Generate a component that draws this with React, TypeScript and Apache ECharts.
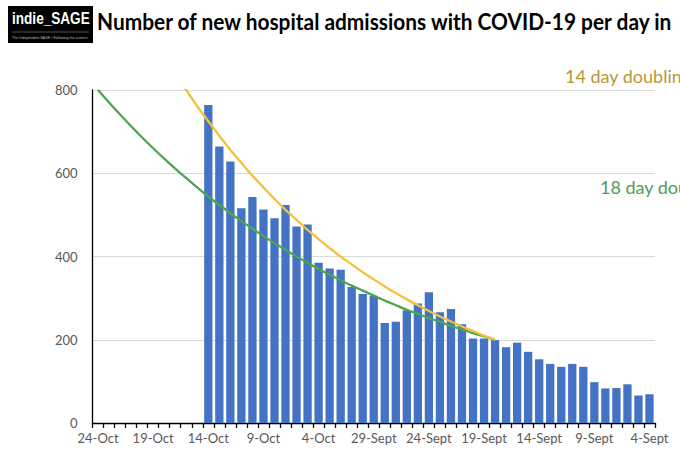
import React, { useEffect, useRef } from "react";
import * as echarts from "echarts";

const categories = [
  "24-Oct", "23-Oct", "22-Oct", "21-Oct", "20-Oct", "19-Oct", "18-Oct", "17-Oct", "16-Oct", "15-Oct",
  "14-Oct", "13-Oct", "12-Oct", "11-Oct", "10-Oct", "9-Oct", "8-Oct", "7-Oct", "6-Oct", "5-Oct",
  "4-Oct", "3-Oct", "2-Oct", "1-Oct", "30-Sept", "29-Sept", "28-Sept", "27-Sept", "26-Sept", "25-Sept",
  "24-Sept", "23-Sept", "22-Sept", "21-Sept", "20-Sept", "19-Sept", "18-Sept", "17-Sept", "16-Sept", "15-Sept",
  "14-Sept", "13-Sept", "12-Sept", "11-Sept", "10-Sept", "9-Sept", "8-Sept", "7-Sept", "6-Sept", "5-Sept",
  "4-Sept",
];

const admissions = [
  null, null, null, null, null, null, null, null, null, null,
  764, 664, 628, 516, 543, 513, 492, 524, 472, 477,
  385, 371, 368, 327, 310, 306, 240, 243, 271, 287,
  314, 266, 274, 237, 203, 203, 199, 182, 193, 171,
  153, 142, 135, 142, 135, 98, 83, 84, 93, 66,
  69,
];

const doubling18 = [
  800, 770, 741, 713, 686, 660, 635, 611, 588, 566,
  544, 524, 504, 485, 467, 449, 432, 416, 400, 385,
  370, 356, 343, 330, 318, 306, 294, 283, 272, 262,
  252, 243, 233, 225, 216, 208, 200, null, null, null,
  null, null, null, null, null, null, null, null, null, null,
  null,
];

const doubling14 = [
  null, null, null, null, null, null, null, 841, 800, 761,
  725, 690, 656, 625, 594, 566, 538, 512, 488, 464,
  442, 420, 400, 381, 362, 345, 328, 312, 297, 283,
  269, 256, 244, 232, 221, 210, 200, null, null, null,
  null, null, null, null, null, null, null, null, null, null,
  null,
];

const yTicks = [0, 200, 400, 600, 800];

const titleText = "Number of new hospital admissions with COVID-19 per day in";
const label14 = "14 day doubling";
const label18 = "18 day doubling";

export default function App() {
  const ref = useRef<HTMLDivElement>(null);

  useEffect(() => {
    if (!ref.current) return;
    const chart = echarts.init(ref.current, undefined, { renderer: "svg" });
    const axisFont = "Lato, 'Open Sans', sans-serif";
    chart.setOption({
      animation: false,
      backgroundColor: "#ffffff",
      grid: { left: 92.5, right: 25, top: 90, bottom: 37, containLabel: false },
      xAxis: {
        type: "category",
        data: categories,
        boundaryGap: true,
        axisLine: { show: true, lineStyle: { color: "#000000", width: 1.3 } },
        axisTick: { show: true, interval: 0, length: 5, alignWithLabel: false, lineStyle: { color: "#000000", width: 1.3 } },
        axisLabel: { interval: 4, color: "#595959", fontSize: 13, fontFamily: axisFont, margin: 8 },
        splitLine: { show: false },
      },
      yAxis: {
        type: "value",
        min: yTicks[0],
        max: yTicks[yTicks.length - 1],
        interval: 200,
        axisLine: { show: true, lineStyle: { color: "#000000", width: 1.3 } },
        axisTick: { show: false },
        axisLabel: { color: "#595959", fontSize: 13, fontFamily: axisFont, margin: 15 },
        splitLine: { show: true, lineStyle: { color: "#d9d9d9", width: 1 } },
      },
      series: [
        {
          type: "bar",
          data: admissions,
          barWidth: 8.3,
          itemStyle: { color: "#4472C4" },
          z: 2,
        },
        {
          type: "line",
          data: doubling18,
          showSymbol: false,
          symbol: "none",
          smooth: 0.3,
          connectNulls: false,
          lineStyle: { color: "#4CA64F", width: 2.3 },
          z: 3,
        },
        {
          type: "line",
          data: doubling14,
          showSymbol: false,
          symbol: "none",
          smooth: 0.3,
          connectNulls: false,
          lineStyle: { color: "#F2C13E", width: 2.3 },
          z: 4,
        },
      ],
      graphic: [
        {
          type: "rect",
          shape: { x: 8, y: 6, width: 85, height: 37 },
          style: { fill: "#000000" },
        },
        {
          type: "group",
          x: 12,
          y: 19,
          scaleX: 0.85,
          children: [
            {
              type: "text",
              style: {
                text: "indie_SAGE",
                x: 0,
                y: 0,
                fill: "#ffffff",
                font: "bold 16px 'Liberation Sans', Arial, sans-serif",
                textVerticalAlign: "middle",
              },
            },
          ],
        },
        {
          type: "line",
          shape: { x1: 12, y1: 32, x2: 89, y2: 32 },
          style: { stroke: "#8c8c8c", lineWidth: 0.6 },
        },
        {
          type: "text",
          style: {
            text: "The Independent SAGE • Following the science",
            x: 12,
            y: 37.5,
            fill: "#bfbfbf",
            font: "3.6px 'Liberation Sans', Arial, sans-serif",
            textVerticalAlign: "middle",
          },
        },
        {
          type: "group",
          x: 97,
          y: 21.5,
          scaleX: 0.95,
          children: [
            {
              type: "text",
              style: {
                text: titleText,
                x: 0,
                y: 0,
                fill: "#000000",
                font: "bold 22px Lato, sans-serif",
                textVerticalAlign: "middle",
              },
            },
          ],
        },
        {
          type: "text",
          style: {
            text: label14,
            x: 565,
            y: 75.5,
            fill: "#B8963A",
            font: "18px Lato, sans-serif",
            textVerticalAlign: "middle",
          },
        },
        {
          type: "text",
          style: {
            text: label18,
            x: 600,
            y: 186.5,
            fill: "#4E9E58",
            font: "18px Lato, sans-serif",
            textVerticalAlign: "middle",
          },
        },
      ],
    });
    return () => chart.dispose();
  }, []);

  return (
    <div
      ref={ref}
      style={{ position: "fixed", left: 0, top: 0, width: 680, height: 460, background: "#fff" }}
    />
  );
}
